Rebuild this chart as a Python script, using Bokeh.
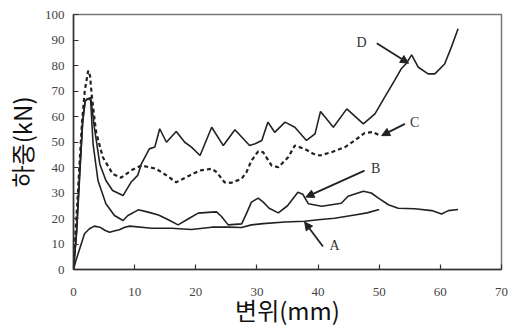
from bokeh.plotting import figure
from bokeh.models import Range1d, Label, Arrow, NormalHead, FixedTicker
from bokeh.embed import file_html
from bokeh.resources import INLINE

# Curve data (displacement mm, load kN)
A_x = [0, 0.4, 1.0, 1.8, 2.6, 3.4, 4.3, 5.2, 5.9, 6.8, 7.5, 8.4, 9.2, 12.8, 16.0, 19.3, 22.6, 25.3, 27.5,
       29.1, 31.0, 34.6, 37.8, 40.0, 42.7, 46.0, 48.0, 50.0]
A_y = [0, 3.5, 8, 14, 16, 17, 16.6, 15.3, 14.6, 15.2, 15.6, 16.6, 17, 16.2, 16.2, 15.7, 16.6, 16.6, 16.5,
       17.5, 18, 18.6, 18.9, 19.5, 20.1, 21.4, 22.2, 23.5]

B_x = [0, 0.5, 1.0, 1.5, 1.9, 2.3, 2.8, 3.2, 4.0, 5.3, 6.7, 8.1, 8.9, 10.6, 12.2, 13.9, 15.5, 17.1, 18.8,
       20.4, 22.6, 23.4, 24.2, 25.3, 27.5, 28.3, 29.1, 30.2, 31.0, 32.0, 33.5, 35.0, 36.7, 37.5, 38.4,
       40.6, 43.8, 44.9, 47.4, 48.7, 50.0, 51.5, 53.1, 55.8, 58.6, 60.2, 61.3, 62.9]
B_y = [0, 15, 38, 58, 66, 67, 66.5, 49.3, 34.9, 25.8, 21.2, 19.2, 21.2, 23.4, 22.5, 21.4, 19.5, 17.5, 19.9,
       22.1, 22.5, 22.6, 20.8, 17.5, 17.9, 22, 26.4, 28, 26.5, 24, 22.2, 25, 30.3, 29.5, 25.8,
       24.8, 26, 28.7, 30.7, 30, 27.8, 25.4, 24, 23.8, 23.1, 21.8, 23.1, 23.5]

C_x = [0, 0.2, 0.6, 1.0, 1.4, 1.85, 2.4, 2.7, 3.0, 3.4, 3.7, 4.8, 6.4, 7.8, 9.4, 11.1, 13.5, 15.2, 16.8,
       19.0, 20.6, 22.6, 23.4, 24.7, 25.8, 27.5, 28.3, 29.1, 30.2, 31.0, 32.4, 33.5, 35.1, 36.2, 37.8,
       39.2, 40.3, 42.2, 44.4, 46.0, 47.6, 49.0, 50.1]
C_y = [0, 10, 25, 42, 58, 70.2, 78, 76, 68, 59.7, 53.8, 44, 37.5, 36, 38.8, 40.8, 39.5, 36.9, 34.2,
       36.9, 38.8, 39.5, 38.2, 34.2, 34, 35.6, 38.2, 42.7, 46.3, 46, 40.8, 40.1, 44, 48.6, 47.3,
       45.4, 44.7, 46, 48, 50.6, 53.5, 53.9, 52.5]

D_x = [0, 0.5, 1.0, 1.5, 1.9, 2.4, 2.8, 3.1, 3.4, 4.3, 5.3, 6.4, 7.5, 8.1, 9.4, 10.5, 11.1, 12.4, 13.3,
       14.1, 15.2, 16.8, 18.2, 19.3, 20.7, 22.6, 24.5, 26.4, 28.8, 29.7, 30.8, 31.8, 32.9, 34.6, 36.2,
       38.1, 39.5, 40.4, 42.5, 44.7, 47.4, 49.3, 50.9, 52.5, 53.6, 54.5, 55.3, 56.4, 58.0, 59.1, 60.7,
       61.8, 62.9]
D_y = [0, 14, 36, 58, 66, 67, 67.5, 62, 55.8, 41.4, 34.9, 31, 29.7, 29, 34.2, 36.9, 41.4, 47.3, 48,
       55.2, 49.9, 54.1, 49.9, 48, 44.7, 55.8, 48.6, 54.8, 48.6, 49.3, 50.6, 57.8, 53.8, 57.8, 55.8,
       50.6, 53.2, 62, 55.8, 63, 57.1, 61, 67.6, 74.1, 78.7, 81, 84.2, 79.3, 76.7, 76.7, 80.6,
       87.2, 94.4]

x_ticks = [0, 10, 20, 30, 40, 50, 60, 70]
y_ticks = [0, 10, 20, 30, 40, 50, 60, 70, 80, 90, 100]
x_title = "변위(mm)"
y_title = "하중(kN)"

# annotation labels and arrows
ann_text = ["D", "C", "B", "A"]
ann_lx = [47.1, 55.8, 49.4, 42.7]
ann_ly = [89.1, 57.5, 39.5, 9.4]
arr_x0 = [49.6, 54.2, 47.6, 40.8]
arr_y0 = [88.7, 57.1, 38.8, 9.0]
arr_x1 = [54.8, 50.4, 38.0, 37.8]
arr_y1 = [80.9, 52.5, 28.4, 18.6]

p = figure(frame_width=428, frame_height=255, x_range=Range1d(0, 70), y_range=Range1d(0, 100),
           output_backend="svg", toolbar_location=None,
           min_border_left=72, min_border_right=14, min_border_top=14, min_border_bottom=59)

p.xgrid.visible = False
p.ygrid.visible = False
p.outline_line_color = "#777777"
p.outline_line_width = 1.5
p.background_fill_color = "white"
p.border_fill_color = "white"

for ax in (p.xaxis[0], p.yaxis[0]):
    ax.axis_line_color = "#333333"
    ax.axis_line_width = 1.5
    ax.major_tick_in = 5
    ax.major_tick_out = 0
    ax.major_tick_line_color = "#333333"
    ax.major_tick_line_width = 1.2
    ax.minor_tick_line_color = None
    ax.major_label_text_font = "Liberation Serif"
    ax.major_label_text_font_size = "13px"
    ax.major_label_text_color = "#444444"
    ax.axis_label_text_font = "Noto Sans CJK KR"
    ax.axis_label_text_font_size = "24px"
    ax.axis_label_text_font_style = "normal"
    ax.axis_label_text_color = "#111111"

p.xaxis.ticker = FixedTicker(ticks=x_ticks)
p.yaxis.ticker = FixedTicker(ticks=y_ticks)
p.xaxis.axis_label = x_title
p.yaxis.axis_label = y_title
p.xaxis.major_label_standoff = 18
p.xaxis.axis_label_standoff = -7
p.yaxis.major_label_standoff = 9
p.yaxis.axis_label_standoff = 3

col = "#222222"
p.line(A_x, A_y, line_color=col, line_width=1.6)
p.line(B_x, B_y, line_color=col, line_width=1.6)
p.line(C_x, C_y, line_color=col, line_width=2.2, line_dash="4 3")
p.line(D_x, D_y, line_color=col, line_width=1.6)

for t, lx, ly, x0, y0, x1, y1 in zip(ann_text, ann_lx, ann_ly, arr_x0, arr_y0, arr_x1, arr_y1):
    p.add_layout(Label(x=lx, y=ly, text=t, text_font="Liberation Serif", text_font_size="14px",
                       text_color="#333333", text_align="center", text_baseline="middle"))
    p.add_layout(Arrow(x_start=x0, y_start=y0, x_end=x1, y_end=y1, line_color=col, line_width=1.8,
                       end=NormalHead(size=8, fill_color=col, line_color=col)))

open("out.html", "w").write(file_html(p, INLINE))
